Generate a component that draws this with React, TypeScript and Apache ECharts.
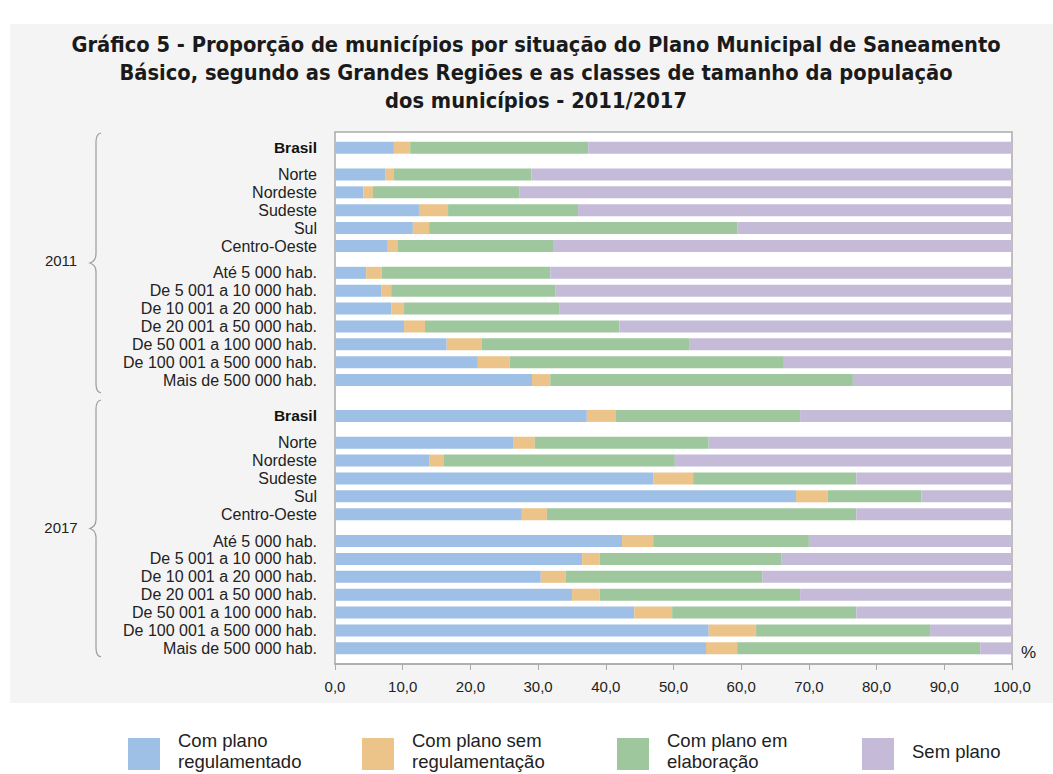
import React, { useEffect, useRef } from "react";
import * as echarts from "echarts";

const rowLabels = [
  "Brasil", "Norte", "Nordeste", "Sudeste", "Sul", "Centro-Oeste",
  "Até 5 000 hab.", "De 5 001 a 10 000 hab.", "De 10 001 a 20 000 hab.", "De 20 001 a 50 000 hab.",
  "De 50 001 a 100 000 hab.", "De 100 001 a 500 000 hab.", "Mais de 500 000 hab.",
  "Brasil", "Norte", "Nordeste", "Sudeste", "Sul", "Centro-Oeste",
  "Até 5 000 hab.", "De 5 001 a 10 000 hab.", "De 10 001 a 20 000 hab.", "De 20 001 a 50 000 hab.",
  "De 50 001 a 100 000 hab.", "De 100 001 a 500 000 hab.", "Mais de 500 000 hab.",
];
// half-row position of each row (gaps between groups)
const rowHalfPos = [0, 3, 5, 7, 9, 11, 14, 16, 18, 20, 22, 24, 26, 30, 33, 35, 37, 39, 41, 44, 46, 48, 50, 52, 54, 56];

const seriesNames = ["Com plano regulamentado", "Com plano sem regulamentação", "Com plano em elaboração", "Sem plano"];
const legendLines = [["Com plano", "regulamentado"], ["Com plano sem", "regulamentação"], ["Com plano em", "elaboração"], ["Sem plano"]];
const colors = ["#9ebfe6", "#ecc389", "#9ec79d", "#c5bbd9"];

const comRegulamentado = [8.7, 7.4, 4.2, 12.4, 11.5, 7.8, 4.6, 6.9, 8.3, 10.2, 16.5, 21.1, 29.1,
  37.2, 26.3, 13.9, 47.0, 68.1, 27.6, 42.4, 36.5, 30.4, 35.0, 44.2, 55.2, 54.8];
const semRegulamentacao = [2.4, 1.3, 1.4, 4.3, 2.4, 1.5, 2.3, 1.4, 1.9, 3.1, 5.2, 4.7, 2.7,
  4.3, 3.2, 2.2, 5.9, 4.7, 3.7, 4.6, 2.6, 3.7, 4.1, 5.6, 7.0, 4.6];
const emElaboracao = [26.3, 20.3, 21.6, 19.2, 45.5, 22.9, 24.9, 24.3, 22.9, 28.7, 30.7, 40.5, 44.7,
  27.2, 25.7, 34.1, 24.1, 13.8, 45.7, 23.0, 26.8, 29.0, 29.6, 27.2, 25.7, 35.9];
const semPlano = [62.6, 71.0, 72.8, 64.1, 40.6, 67.8, 68.2, 67.4, 66.9, 58.0, 47.6, 33.7, 23.5,
  31.3, 44.8, 49.8, 23.0, 13.4, 23.0, 30.0, 34.1, 36.9, 31.3, 23.0, 12.1, 4.7];

const xTicks = [0, 10, 20, 30, 40, 50, 60, 70, 80, 90, 100];
const groupYears = ["2011", "2017"];

const SLOTS = 119;

export default function App() {
  const ref = useRef<HTMLDivElement>(null);
  useEffect(() => {
    if (!ref.current) return;
    const chart = echarts.init(ref.current, undefined, { renderer: "svg" });

    const slotLabel: string[] = new Array(SLOTS).fill("");
    const categories: string[] = [];
    for (let i = 0; i < SLOTS; i++) categories.push("s" + i);
    const rowSlot = rowHalfPos.map((h) => 3 + 2 * h);
    rowSlot.forEach((s, i) => (slotLabel[s] = rowLabels[i]));

    const build = (vals: number[]) => {
      const arr: (number | string)[] = new Array(SLOTS).fill("-");
      rowSlot.forEach((s, i) => (arr[s] = vals[i]));
      return arr;
    };
    const allVals = [comRegulamentado, semRegulamentacao, emElaboracao, semPlano];

    echarts.graphic.registerShape(
      "brace",
      echarts.graphic.extendPath(
        "M 11 0 Q 6 1 6 9 L 6 121 Q 6 128 0 130 Q 6 132 6 139 L 6 251 Q 6 259 11 260",
        {}
      )
    );

    const legendX = [128, 362, 617, 862];
    const legendGraphics: any[] = [];
    legendLines.forEach((lines, i) => {
      legendGraphics.push({
        type: "rect",
        shape: { x: legendX[i], y: 738, width: 32, height: 32 },
        style: { fill: colors[i] },
      });
      legendGraphics.push({
        type: "text",
        x: legendX[i] + 50,
        y: 751,
        style: {
          text: lines.join("\n"),
          fill: "#222",
          font: "18.5px 'Liberation Sans', Arial, sans-serif",
          lineHeight: 21,
          verticalAlign: "middle",
          align: "left",
        },
      });
    });

    const option: any = {
      animation: false,
      backgroundColor: "#ffffff",
      title: {
        text: "Gráfico 5 - Proporção de municípios por situação do Plano Municipal de Saneamento\nBásico, segundo as Grandes Regiões e as classes de tamanho da população\ndos municípios - 2011/2017",
        left: 531,
        top: 25,
        textAlign: "center",
        textStyle: {
          fontFamily: "'Liberation Sans Narrow', 'DejaVu Sans Condensed', sans-serif",
          fontSize: 21.7,
          fontWeight: "bold",
          lineHeight: 28,
          color: "#1a1a1a",
        },
      },
      grid: {
        left: 335,
        right: 41,
        top: 132,
        height: 532,
        show: true,
        backgroundColor: "#ffffff",
        borderColor: "#aaaaaa",
        borderWidth: 1.5,
      },
      xAxis: {
        type: "value",
        min: 0,
        max: 100,
        interval: 10,
        splitLine: { show: false },
        axisLine: { show: true, lineStyle: { color: "#aaaaaa", width: 1.5 } },
        axisTick: { show: true, length: 6, lineStyle: { color: "#aaaaaa" } },
        axisLabel: {
          margin: 15,
          color: "#222",
          fontSize: 15,
          fontFamily: "'Liberation Sans', Arial, sans-serif",
          formatter: (v: number) => (xTicks.includes(v) ? v.toFixed(1).replace(".", ",") : ""),
        },
      },
      yAxis: {
        type: "category",
        inverse: true,
        data: categories,
        axisLine: { show: false },
        axisTick: { show: false },
        splitLine: { show: false },
        axisLabel: {
          interval: 0,
          margin: 18,
          color: "#222",
          fontSize: 16,
          fontFamily: "'Liberation Sans', Arial, sans-serif",
          formatter: (_v: string, idx: number) => {
            const t = slotLabel[idx];
            if (!t) return "";
            return t === "Brasil" ? "{b|Brasil}" : t;
          },
          rich: {
            b: {
              fontWeight: "bold",
              fontSize: 15.5,
              color: "#111",
              fontFamily: "'Liberation Sans', Arial, sans-serif",
            },
          },
        },
      },
      series: seriesNames.map((name, i) => ({
        name,
        type: "bar",
        stack: "total",
        barWidth: 12,
        itemStyle: { color: colors[i] },
        data: build(allVals[i]),
      })),
      graphic: [
        {
          type: "rect",
          z: -10,
          silent: true,
          shape: { x: 10, y: 24, width: 1043, height: 679 },
          style: { fill: "#f4f4f4" },
        },
        {
          type: "brace",
          x: 90,
          y: 133,
          scaleX: 1,
          scaleY: 1,
          style: { fill: "none", stroke: "#9a9a9a", lineWidth: 1.2 },
        },
        {
          type: "brace",
          x: 90,
          y: 400,
          scaleX: 1,
          scaleY: 257 / 260,
          style: { fill: "none", stroke: "#9a9a9a", lineWidth: 1.2 },
        },
        {
          type: "text",
          x: 61,
          y: 260,
          style: { text: groupYears[0], fill: "#222", font: "15px 'Liberation Sans', Arial, sans-serif", align: "center", verticalAlign: "middle" },
        },
        {
          type: "text",
          x: 61,
          y: 527,
          style: { text: groupYears[1], fill: "#222", font: "15px 'Liberation Sans', Arial, sans-serif", align: "center", verticalAlign: "middle" },
        },
        {
          type: "text",
          x: 1021,
          y: 652,
          style: { text: "%", fill: "#222", font: "17px 'Liberation Sans', Arial, sans-serif", align: "left", verticalAlign: "middle" },
        },
        ...legendGraphics,
      ],
    };
    chart.setOption(option);
    return () => chart.dispose();
  }, []);
  return <div ref={ref} style={{ position: "fixed", left: 0, top: 0, width: 1053, height: 774 }} />;
}
